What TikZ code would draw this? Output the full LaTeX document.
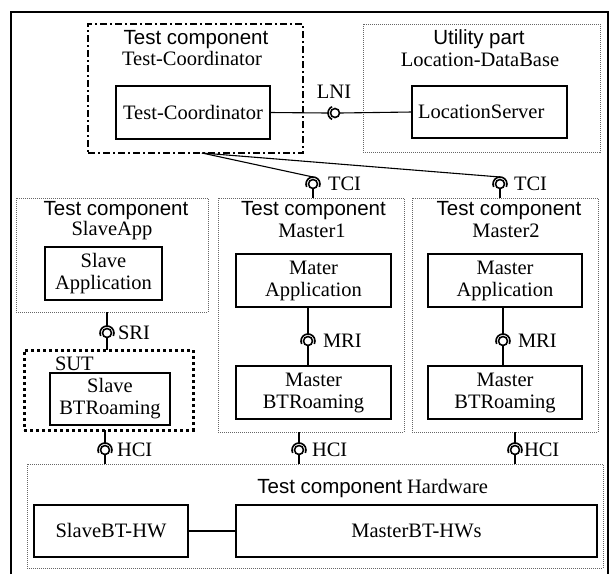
\documentclass[tikz,border=0pt]{standalone}
\usepackage{fontspec}
\setmainfont{Liberation Serif}
\setsansfont{Liberation Sans}
\begin{document}
\begin{tikzpicture}[x=1pt,y=-1pt,
  every node/.style={inner sep=0pt,outer sep=0pt,font=\fontsize{20.5}{22}\selectfont},
  box/.style={draw,line width=1.2pt,align=center},
  grp/.style={draw=black!60,line width=0.8pt,dash pattern=on 1pt off 1pt},
  tcgrp/.style={draw,line width=1.8pt,dash pattern=on 7pt off 3pt on 2pt off 3pt},
  sutgrp/.style={draw,line width=3pt,dash pattern=on 3pt off 3pt},
  wire/.style={line width=1.1pt},
  ball/.style={line width=1.6pt},
  lbl/.style={anchor=base west},
  ttl/.style={anchor=base}]
\useasboundingbox (0,0) rectangle (612,574);

% outer frame, open at the bottom
\draw[line width=1.4pt] (11,574) -- (11,12) -- (608,12) -- (608,574);

% Test-Coordinator component
\node[tcgrp,minimum width=215pt,minimum height=129pt] (tcg) at (195.5,88.5) {};
\node[ttl,font=\sffamily\fontsize{20.5}{22}\selectfont] (tct1) at (196,44) {Test component};
\node[ttl] (tct2) at (192,65) {Test-Coordinator};
\node[box,minimum width=154pt,minimum height=53pt] (tcbox) at (193,112.5) {Test-Coordinator};

% Location database utility
\node[grp,minimum width=237pt,minimum height=128pt] (utg) at (481.5,88) {};
\node[ttl,font=\sffamily\fontsize{20.5}{22}\selectfont] (utt1) at (479,44) {Utility part};
\node[ttl] (utt2) at (480,66) {Location-DataBase};
\node[box,minimum width=155pt,minimum height=52pt] (locbox) at (489.5,112) {};
\node[anchor=west] (loctxt) at (418,112) {LocationServer};

% Slave application component
\node[grp,minimum width=192pt,minimum height=114pt] (sag) at (112,255) {};
\node[ttl,font=\sffamily\fontsize{20.5}{22}\selectfont] (sat1) at (116,215) {Test component};
\node[ttl] (sat2) at (112,235) {SlaveApp};
\node[box,minimum width=117pt,minimum height=53pt] (saapp) at (103.5,273.5) {Slave\\Application};

% system under test
\node[sutgrp,minimum width=169pt,minimum height=80pt] (sut) at (108.5,390) {};
\node[anchor=base west] (sutt) at (55,370.5) {SUT};
\node[box,minimum width=120pt,minimum height=52pt] (sbt) at (110,399) {Slave\\BTRoaming};

% Master1 component
\node[grp,minimum width=186pt,minimum height=234pt] (m1g) at (311,315) {};
\node[ttl,font=\sffamily\fontsize{20.5}{22}\selectfont] (m1t1) at (313.5,215) {Test component};
\node[ttl] (m1t2) at (312,237) {Master1};
\node[box,minimum width=155pt,minimum height=53pt] (m1app) at (313.5,280.5) {Mater\\Application};
\node[box,minimum width=155pt,minimum height=53pt] (m1bt) at (313.5,392.5) {Master\\BTRoaming};

% Master2 component
\node[grp,minimum width=186pt,minimum height=234pt] (m2g) at (505,315) {};
\node[ttl,font=\sffamily\fontsize{20.5}{22}\selectfont] (m2t1) at (509,215) {Test component};
\node[ttl] (m2t2) at (506,237) {Master2};
\node[box,minimum width=154pt,minimum height=53pt] (m2app) at (505,280.5) {Master\\Application};
\node[box,minimum width=154pt,minimum height=53pt] (m2bt) at (505,392.5) {Master\\BTRoaming};

% hardware component
\node[grp,minimum width=576pt,minimum height=104pt] (hwg) at (315,516) {};
\node[anchor=base east] (hwt) at (488,493) {{\sffamily Test component} Hardware};
\node[box,minimum width=154pt,minimum height=52pt] (shw) at (111,531) {SlaveBT-HW};
\node[box,minimum width=361pt,minimum height=52pt] (mhw) at (416.5,531) {MasterBT-HWs};
\draw[wire] (shw.east) -- (mhw.west);

% interface points (ball and socket)
\coordinate (lni) at (335,113);
\coordinate (tci1) at (313,184);
\coordinate (tci2) at (500,184);
\coordinate (mri1) at (308,341);
\coordinate (mri2) at (503,341);
\coordinate (sri) at (107,333);
\coordinate (hci1) at (105,450);
\coordinate (hci2) at (299,450);
\coordinate (hci3) at (515,450);
\coordinate (tcfoot) at (202,153);

% horizontal interface LNI
\draw[ball] (lni) circle[radius=4.5pt];
\draw[ball] (lni) ++(115:7pt) arc[start angle=115,end angle=245,radius=7pt];
\draw[wire] (tcbox.east) -- ([xshift=-7pt]lni);
\draw[wire] ([xshift=4.5pt]lni) -- (locbox.west);
\node[anchor=base] (lnil) at (334,98) {LNI};

% vertical interfaces
\foreach \p in {tci1,tci2,mri1,mri2,sri,hci1,hci2,hci3}{
  \draw[ball] (\p) circle[radius=4.5pt];
  \draw[ball] (\p) ++(205:7pt) arc[start angle=205,end angle=-25,radius=7pt];
}
\draw[wire] (tcfoot) -- ([yshift=7pt]tci1);
\draw[wire] (tcfoot) -- ([yshift=7pt]tci2);
\draw[wire] ([yshift=-4.5pt]tci1) -- (tci1 |- m1g.north);
\draw[wire] ([yshift=-4.5pt]tci2) -- (tci2 |- m2g.north);
\draw[wire] (mri1 |- m1app.south) -- ([yshift=7pt]mri1);
\draw[wire] ([yshift=-4.5pt]mri1) -- (mri1 |- m1bt.north);
\draw[wire] (mri2 |- m2app.south) -- ([yshift=7pt]mri2);
\draw[wire] ([yshift=-4.5pt]mri2) -- (mri2 |- m2bt.north);
\draw[wire] (sri |- sag.south) -- ([yshift=7pt]sri);
\draw[wire] ([yshift=-4.5pt]sri) -- (sri |- sut.north);
\draw[wire] (hci1 |- sut.south) -- ([yshift=7pt]hci1);
\draw[wire] ([yshift=-4.5pt]hci1) -- (hci1 |- hwg.north);
\draw[wire] (hci2 |- m1g.south) -- ([yshift=7pt]hci2);
\draw[wire] ([yshift=-4.5pt]hci2) -- (hci2 |- hwg.north);
\draw[wire] (hci3 |- m2g.south) -- ([yshift=7pt]hci3);
\draw[wire] ([yshift=-4.5pt]hci3) -- (hci3 |- hwg.north);

\node[lbl] (tci1l) at (328,190) {TCI};
\node[lbl] (tci2l) at (514,190) {TCI};
\node[lbl] (mri1l) at (323,347) {MRI};
\node[lbl] (mri2l) at (518,347) {MRI};
\node[lbl] (sril) at (118,339) {SRI};
\node[lbl] (hci1l) at (117,456) {HCI};
\node[lbl] (hci2l) at (312,456) {HCI};
\node[lbl] (hci3l) at (524,456) {HCI};
\end{tikzpicture}
\end{document}
